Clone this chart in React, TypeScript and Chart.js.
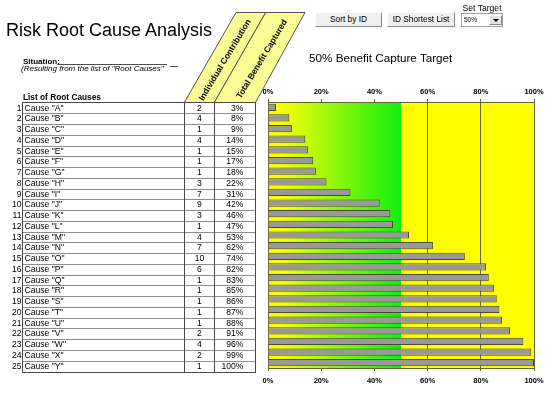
import React, { useEffect, useRef } from "react";
import { Chart, registerables } from "chart.js";
Chart.register(...registerables);

const ids = [1, 2, 3, 4, 5, 6, 7, 8, 9, 10, 11, 12, 13, 14, 15, 16, 17, 18, 19, 20, 21, 22, 23, 24, 25];
const causes = [
  'Cause "A"', 'Cause "B"', 'Cause "C"', 'Cause "D"', 'Cause "E"', 'Cause "F"', 'Cause "G"',
  'Cause "H"', 'Cause "I"', 'Cause "J"', 'Cause "K"', 'Cause "L"', 'Cause "M"', 'Cause "N"',
  'Cause "O"', 'Cause "P"', 'Cause "Q"', 'Cause "R"', 'Cause "S"', 'Cause "T"', 'Cause "U"',
  'Cause "V"', 'Cause "W"', 'Cause "X"', 'Cause "Y"',
];
const individual = [2, 4, 1, 4, 1, 1, 1, 3, 7, 9, 3, 1, 4, 7, 10, 6, 1, 1, 1, 1, 1, 2, 4, 2, 1];
const totals = [3, 8, 9, 14, 15, 17, 18, 22, 31, 42, 46, 47, 53, 62, 74, 82, 83, 85, 86, 87, 88, 91, 96, 99, 100];
const tickValues = [0, 20, 40, 60, 80, 100];
const target = 50;

const FONT = '"Liberation Sans", Arial, Helvetica, sans-serif';
const GRID = "#66662a";

const ROW_TOP = 102.5;
const ROW_H = 10.76;

const bgPlugin = {
  id: "bgZones",
  beforeDraw(chart: any) {
    const { ctx, chartArea: a, scales } = chart;
    const xt = scales.x.getPixelForValue(target);
    ctx.save();
    ctx.fillStyle = "#ffff00";
    ctx.fillRect(a.left, a.top, a.right - a.left, a.bottom - a.top);
    const g = ctx.createLinearGradient(a.left, 0, xt, 0);
    g.addColorStop(0, "#ffff00");
    g.addColorStop(0.1, "#f8ff05");
    g.addColorStop(1, "#10ee10");
    ctx.fillStyle = g;
    ctx.fillRect(a.left, a.top, xt - a.left, a.bottom - a.top);
    ctx.restore();
  },
};

function T(props: { x: number; cap: number; size: number; bold?: boolean; italic?: boolean; children: any; style?: any }) {
  const { x, cap, size, bold, italic, children, style } = props;
  return (
    <div
      style={{
        position: "absolute",
        left: x,
        top: cap - 0.13 * size,
        fontSize: size,
        lineHeight: `${size}px`,
        fontWeight: bold ? "bold" : "normal",
        fontStyle: italic ? "italic" : "normal",
        whiteSpace: "nowrap",
        color: "#000",
        ...style,
      }}
    >
      {children}
    </div>
  );
}

function BarChart() {
  const ref = useRef<HTMLCanvasElement | null>(null);
  useEffect(() => {
    if (!ref.current) return;
    const tickFont = { family: FONT, size: 7.5, weight: "bold" as const };
    const chart = new Chart(ref.current, {
      type: "bar",
      data: {
        labels: causes,
        datasets: [
          {
            data: totals,
            xAxisID: "x",
            yAxisID: "y",
            backgroundColor: "#999999",
            borderColor: "#4a4a30",
            borderWidth: 1,
            barPercentage: 0.68,
            categoryPercentage: 1,
          },
        ],
      },
      options: {
        indexAxis: "y",
        animation: false,
        responsive: false,
        devicePixelRatio: 1,
        layout: { padding: { left: 28, right: 23, top: 8, bottom: 3 } },
        plugins: { legend: { display: false }, tooltip: { enabled: false } },
        scales: {
          x: {
            type: "linear",
            position: "bottom",
            min: 0,
            max: 100,
            afterBuildTicks: (s: any) => {
              s.ticks = tickValues.map((v) => ({ value: v }));
            },
            afterFit: (s: any) => {
              s.height = 22;
            },
            ticks: {
              callback: (v: any) => v + "%",
              font: tickFont,
              color: "#000",
              padding: 5,
              maxRotation: 0,
              autoSkip: false,
            },
            grid: {
              drawOnChartArea: true,
              tickLength: 3,
              tickColor: GRID,
              lineWidth: 1,
              color: (c: any) => (c.tick && (c.tick.value === 0 || c.tick.value > target) ? GRID : "rgba(0,0,0,0)"),
            },
            border: { display: true, color: GRID },
          },
          x2: {
            type: "linear",
            position: "top",
            min: 0,
            max: 100,
            afterBuildTicks: (s: any) => {
              s.ticks = tickValues.map((v) => ({ value: v }));
            },
            afterFit: (s: any) => {
              s.height = 14;
            },
            ticks: {
              callback: (v: any) => v + "%",
              font: tickFont,
              color: "#000",
              padding: 3,
              maxRotation: 0,
              autoSkip: false,
            },
            grid: { drawOnChartArea: false, tickLength: 3, color: GRID, tickColor: GRID },
            border: { display: true, color: GRID },
          },
          y: { type: "category", display: false, grid: { display: false } },
        },
      },
      plugins: [bgPlugin],
    } as any);
    return () => chart.destroy();
  }, []);
  return (
    <canvas
      ref={ref}
      width={317}
      height={313}
      style={{ position: "absolute", left: 240, top: 80, width: 317, height: 313 }}
    />
  );
}

const btnStyle: any = {
  position: "absolute",
  height: 15,
  background: "#efefef",
  borderTop: "1px solid #ffffff",
  borderLeft: "1px solid #ffffff",
  borderRight: "1px solid #8a8a8a",
  borderBottom: "1px solid #8a8a8a",
  boxSizing: "border-box",
  fontSize: 8.3,
  lineHeight: "13px",
  textAlign: "center",
  color: "#000",
  whiteSpace: "nowrap",
};

export default function App() {
  const rowY = (i: number) => ROW_TOP + i * ROW_H;
  const hLines = [];
  for (let i = 1; i < ids.length; i++) {
    const y = Math.round(rowY(i)) + 0.5;
    hLines.push(<line key={i} x1={22.5} x2={255.5} y1={y} y2={y} stroke="#8c8c8c" strokeWidth={1} />);
  }
  const tableBottom = Math.round(rowY(ids.length)) + 0.5;
  return (
    <div
      style={{
        position: "fixed",
        left: 0,
        top: 0,
        width: 557,
        height: 393,
        background: "#fff",
        overflow: "hidden",
        fontFamily: FONT,
      }}
    >
      <BarChart />
      <svg width={557} height={393} style={{ position: "absolute", left: 0, top: 0 }}>
        <polygon points="184.3,102.5 236,12.5 265.7,12.5 214.3,102.5" fill="#fbfb96" stroke="#555" strokeWidth={1} />
        <polygon points="214.3,102.5 265.7,12.5 305,12.5 255.5,102.5" fill="#fbfb96" stroke="#555" strokeWidth={1} />
        <line x1={57} x2={167} y1={64.5} y2={64.5} stroke="#222" strokeWidth={0.8} />
        <line x1={170} x2={178} y1={66.5} y2={66.5} stroke="#222" strokeWidth={0.8} />
        {hLines}
        <rect x={22.5} y={102.5} width={233} height={tableBottom - 102.5} fill="none" stroke="#4a4a4a" strokeWidth={1} />
        <line x1={184.5} x2={184.5} y1={102.5} y2={tableBottom} stroke="#4a4a4a" strokeWidth={1} />
        <line x1={214.5} x2={214.5} y1={102.5} y2={tableBottom} stroke="#4a4a4a" strokeWidth={1} />
      </svg>

      <T x={6} cap={23} size={18}>Risk Root Cause Analysis</T>
      <T x={23} cap={59} size={8} bold>Situation:</T>
      <T x={21} cap={66.5} size={8} italic>(Resulting from the list of "Root Causes"</T>
      <T x={23} cap={94.5} size={8.3} bold>List of Root Causes</T>

      <div
        style={{
          position: "absolute",
          left: 225,
          top: 60,
          transform: "translate(-50%, -50%) rotate(-59deg)",
          fontSize: 8.5,
          fontWeight: "bold",
          lineHeight: "9px",
          whiteSpace: "nowrap",
        }}
      >
        Individual Contribution
      </div>
      <div
        style={{
          position: "absolute",
          left: 261.5,
          top: 58.5,
          transform: "translate(-50%, -50%) rotate(-59deg)",
          fontSize: 8.5,
          fontWeight: "bold",
          lineHeight: "9px",
          whiteSpace: "nowrap",
        }}
      >
        Total Benefit Captured
      </div>

      {ids.map((id, i) => {
        const top = rowY(i);
        const common: any = {
          position: "absolute",
          top,
          height: ROW_H,
          lineHeight: `${ROW_H}px`,
          fontSize: 8.6,
          whiteSpace: "nowrap",
          color: "#000",
        };
        return (
          <React.Fragment key={id}>
            <div style={{ ...common, left: 0, width: 21.5, textAlign: "right" }}>{id}</div>
            <div style={{ ...common, left: 24.5 }}>{causes[i]}</div>
            <div style={{ ...common, left: 185, width: 29, textAlign: "center" }}>{individual[i]}</div>
            <div style={{ ...common, left: 215, width: 28.5, textAlign: "right" }}>{totals[i]}%</div>
          </React.Fragment>
        );
      })}

      <div style={{ ...btnStyle, left: 315, top: 12, width: 67 }}>Sort by ID</div>
      <div style={{ ...btnStyle, left: 387, top: 12, width: 68 }}>ID Shortest List</div>

      <T x={462.5} cap={5} size={8.6}>Set Target</T>
      <div
        style={{
          position: "absolute",
          left: 461,
          top: 13,
          width: 42,
          height: 14,
          boxSizing: "border-box",
          border: "1px solid #a0a0a0",
          background: "#fff",
        }}
      >
        <div style={{ position: "absolute", left: 2, top: 0, fontSize: 6.5, lineHeight: "12px" }}>50%</div>
        <div
          style={{
            position: "absolute",
            left: 27,
            top: 1,
            width: 13,
            height: 10,
            boxSizing: "border-box",
            background: "#e4e4e4",
            borderTop: "1px solid #fff",
            borderLeft: "1px solid #fff",
            borderRight: "1px solid #888",
            borderBottom: "1px solid #888",
          }}
        >
          <div
            style={{
              position: "absolute",
              left: 3,
              top: 3,
              width: 0,
              height: 0,
              borderLeft: "3px solid transparent",
              borderRight: "3px solid transparent",
              borderTop: "3px solid #000",
            }}
          />
        </div>
      </div>

      <T x={309} cap={54} size={11.7}>50% Benefit Capture Target</T>
    </div>
  );
}
